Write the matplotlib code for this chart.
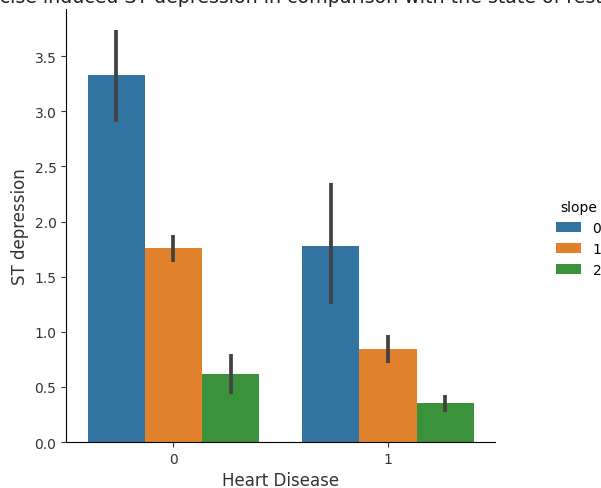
import numpy as np
import matplotlib.pyplot as plt

groups = ["0", "1"]
slopes = ["0", "1", "2"]
# mean ST depression per (heart disease, slope)
means = [[3.33, 1.76, 0.62],
         [1.78, 0.84, 0.35]]
ci_low = [[2.90, 1.63, 0.44],
          [1.25, 0.72, 0.27]]
ci_high = [[3.74, 1.88, 0.80],
           [2.35, 0.97, 0.43]]
colors = ["#3274a1", "#e1812c", "#3a923a"]

fig = plt.figure(figsize=(6.01, 4.89), dpi=100)
ax = fig.add_axes([0.11, 0.094, 0.714, 0.886])

width = 0.8 / len(slopes)
x = np.arange(len(groups))
handles = []
for j, s in enumerate(slopes):
    pos = x - 0.4 + width * (j + 0.5)
    h = [means[i][j] for i in range(len(groups))]
    b = ax.bar(pos, h, width, color=colors[j], label=s)
    handles.append(b)
    for i in range(len(groups)):
        ax.plot([pos[i], pos[i]], [ci_low[i][j], ci_high[i][j]],
                color="#424242", lw=2.7, solid_capstyle="butt")

ax.set_xlim(-0.5, 1.5)
ax.set_ylim(0, 3.93)
ax.set_xticks(x)
ax.set_xticklabels(groups)
ax.set_yticks(np.arange(0, 3.6, 0.5))
ax.tick_params(labelsize=10, colors="#333333", labelcolor="#333333")
ax.spines["top"].set_visible(False)
ax.spines["right"].set_visible(False)
ax.set_xlabel("Heart Disease", fontsize=12, color="#333333")
ax.set_ylabel("ST depression", fontsize=12, color="#333333")

fig.text(0.466, 1 - 3 / 489, "Exercise induced ST depression in comparison with the state of rest",
         ha="center", va="baseline", fontsize=13.7, color="#222222")

fig.legend(handles=handles, labels=slopes, title="slope", loc="center left",
           bbox_to_anchor=(0.905, 0.51), frameon=False, fontsize=10, title_fontsize=10,
           handlelength=1.8)

fig.savefig("out.png", dpi=100)
